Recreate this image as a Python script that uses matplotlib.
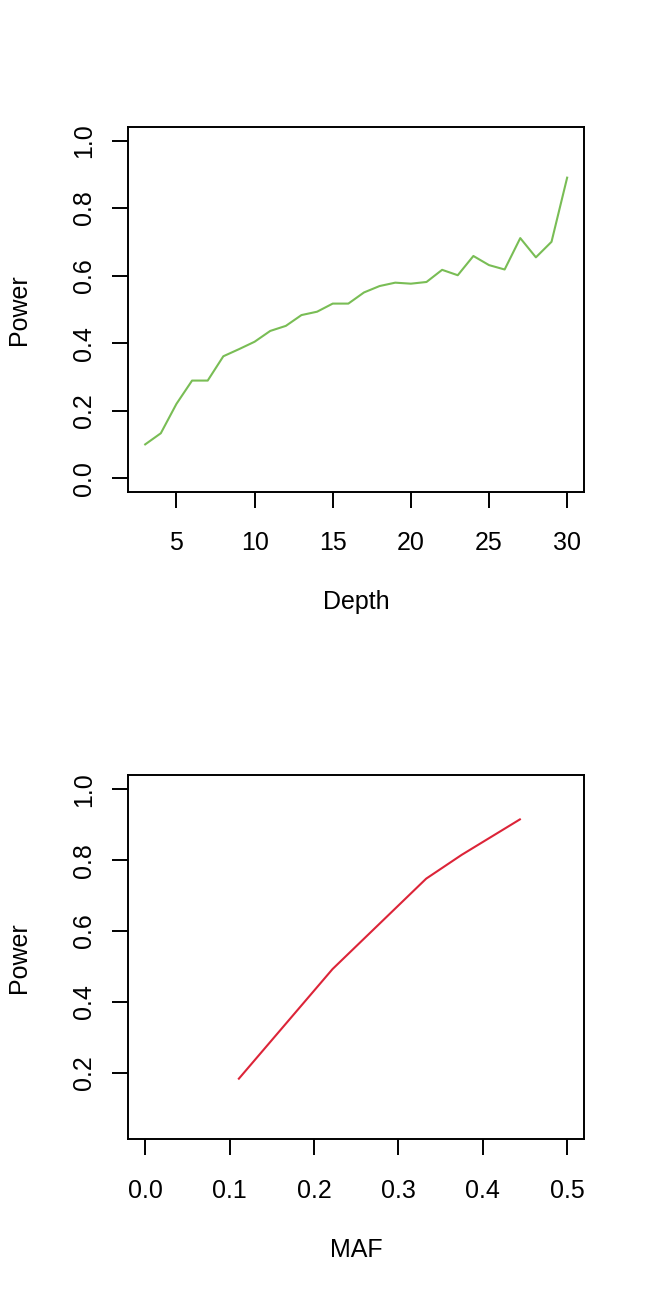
import matplotlib
matplotlib.use("Agg")
import matplotlib.pyplot as plt

plt.rcParams['font.family'] = ['Liberation Sans', 'DejaVu Sans']

# Power vs sequencing depth
depth = list(range(3, 31))
power_depth = [0.100, 0.133, 0.220, 0.289, 0.289, 0.361, 0.382, 0.404,
               0.436, 0.451, 0.483, 0.493, 0.517, 0.517, 0.550, 0.569,
               0.579, 0.576, 0.581, 0.617, 0.601, 0.658, 0.631, 0.618,
               0.711, 0.654, 0.700, 0.890]

# Power vs minor allele frequency
maf = [0.111, 0.222, 0.286, 0.333, 0.375, 0.444]
power_maf = [0.184, 0.493, 0.640, 0.748, 0.815, 0.915]

depth_ticks = [5, 10, 15, 20, 25, 30]
power_ticks_top = [0.0, 0.2, 0.4, 0.6, 0.8, 1.0]
maf_ticks = [0.0, 0.1, 0.2, 0.3, 0.4, 0.5]
power_ticks_bot = [0.2, 0.4, 0.6, 0.8, 1.0]

fs = 18

fig = plt.figure(figsize=(6.5, 13), dpi=100)
ax1 = fig.add_axes([0.1974, 0.6218, 0.7011, 0.2805])
ax2 = fig.add_axes([0.1974, 0.1236, 0.7011, 0.2802])


def r_style(ax, xticks, xlabels, yticks):
    for s in ax.spines.values():
        s.set_linewidth(1.4)
    ax.set_xticks(xticks)
    ax.set_yticks(yticks)
    ax.set_xticklabels(xlabels)
    ax.set_yticklabels([f"{t:.1f}" for t in yticks], rotation=90, va='center')
    ax.tick_params(axis='both', length=11.5, width=1.4, labelsize=fs, direction='out')
    ax.tick_params(axis='x', pad=17)
    ax.tick_params(axis='y', pad=12)


ax1.plot(depth, power_depth, color='#79bd55', lw=1.5)
ax1.set_xlim(3 - 0.04 * 27, 30 + 0.04 * 27)
ax1.set_ylim(-0.04, 1.04)
r_style(ax1, depth_ticks, [str(t) for t in depth_ticks], power_ticks_top)
ax1.set_xlabel("Depth", fontsize=fs, labelpad=25)
ax1.set_ylabel("Power", fontsize=fs, labelpad=29)

ax2.plot(maf, power_maf, color='#dc2438', lw=1.5)
ax2.set_xlim(-0.02, 0.52)
ax2.set_ylim(0.013, 1.04)
r_style(ax2, maf_ticks, [f"{t:.1f}" for t in maf_ticks], power_ticks_bot)
ax2.set_xlabel("MAF", fontsize=fs, labelpad=25)
ax2.set_ylabel("Power", fontsize=fs, labelpad=29)

fig.savefig("out.png", dpi=100)
